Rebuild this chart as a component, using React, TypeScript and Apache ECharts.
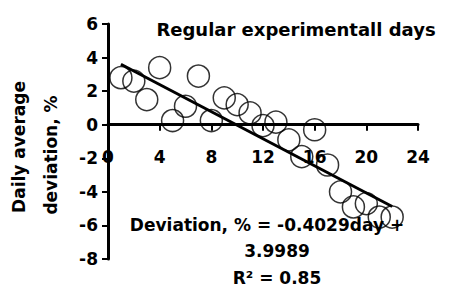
import React, { useEffect, useRef } from "react";
import * as echarts from "echarts";

const days = [1, 2, 3, 4, 5, 6, 7, 8, 9, 10, 11, 12, 13, 14, 15, 16, 17, 18, 19, 20, 21, 22];
const deviation = [2.8, 2.6, 1.5, 3.4, 0.25, 1.1, 2.9, 0.25, 1.6, 1.2, 0.7, -0.05, 0.15, -0.9, -1.9, -0.3, -2.4, -4.0, -4.9, -4.7, -5.5, -5.5];
const trendDays = [1, 22];
const trendValues = [3.6, -4.87];
const titleText = "Regular experimentall days";
const yAxisName = ["Daily average", "deviation, %"];
const equationLines = ["Deviation, % = -0.4029day +", "3.9989", "R² = 0.85"];

const FONT = "DejaVu Sans";
const GRID_TOP = 24;
const GRID_BOTTOM = 35;
const CHART_H = 294;
const Y_MIN = -8;
const Y_MAX = 6;

export default function App() {
  const ref = useRef<HTMLDivElement>(null);
  useEffect(() => {
    if (!ref.current) return;
    const chart = echarts.init(ref.current, null, { renderer: "svg" });
    const txt = { fontFamily: FONT, fontWeight: "bold", fill: "#000" };
    const gridH = CHART_H - GRID_TOP - GRID_BOTTOM;
    const zeroFromBottom = (0 - Y_MIN) / (Y_MAX - Y_MIN) * gridH;
    chart.setOption({
      animation: false,
      backgroundColor: "#fff",
      grid: { left: 108, right: 31, top: GRID_TOP, bottom: GRID_BOTTOM, containLabel: false },
      xAxis: {
        type: "value",
        position: "bottom",
        offset: -zeroFromBottom,
        min: 0,
        max: 24,
        interval: 4,
        axisLine: { onZero: false, lineStyle: { color: "#000", width: 3 } },
        axisTick: { show: true, inside: false, length: 6, lineStyle: { color: "#000", width: 2 } },
        axisLabel: { color: "#000", fontFamily: FONT, fontWeight: "bold", fontSize: 17, margin: 24 },
        splitLine: { show: false },
      },
      yAxis: {
        type: "value",
        min: Y_MIN,
        max: Y_MAX,
        interval: 2,
        axisLine: { onZero: false, lineStyle: { color: "#000", width: 3 } },
        axisTick: { show: true, inside: false, length: 6, lineStyle: { color: "#000", width: 2 } },
        axisLabel: { color: "#000", fontFamily: FONT, fontWeight: "bold", fontSize: 17, margin: 10 },
        splitLine: { show: false },
      },
      series: [
        {
          type: "scatter",
          data: days.map((d, i) => [d, deviation[i]]),
          symbol: "circle",
          symbolSize: 22,
          itemStyle: { color: "rgba(0,0,0,0)", borderColor: "#000", borderWidth: 1.5 },
          z: 3,
        },
        {
          type: "line",
          data: trendDays.map((d, i) => [d, trendValues[i]]),
          symbol: "none",
          lineStyle: { color: "#000", width: 3 },
          z: 4,
        },
      ],
      graphic: [
        { type: "text", x: 296, y: 29, style: { ...txt, text: titleText, fontSize: 18, align: "center", verticalAlign: "middle" } },
        { type: "text", x: 19, y: 147, rotation: Math.PI / 2, style: { ...txt, text: yAxisName[0], fontSize: 17, align: "center", verticalAlign: "middle" } },
        { type: "text", x: 51, y: 155, rotation: Math.PI / 2, style: { ...txt, text: yAxisName[1], fontSize: 17, align: "center", verticalAlign: "middle" } },
        { type: "text", x: 267, y: 225, z: 10, style: { ...txt, text: equationLines[0], fontSize: 17, align: "center", verticalAlign: "middle" } },
        { type: "text", x: 277, y: 251, z: 10, style: { ...txt, text: equationLines[1], fontSize: 17, align: "center", verticalAlign: "middle" } },
        { type: "text", x: 277, y: 278, z: 10, style: { ...txt, text: equationLines[2], fontSize: 17, align: "center", verticalAlign: "middle" } },
      ],
    });
    return () => chart.dispose();
  }, []);
  return <div ref={ref} style={{ width: 449, height: 294, position: "absolute", left: 0, top: 0 }} />;
}
